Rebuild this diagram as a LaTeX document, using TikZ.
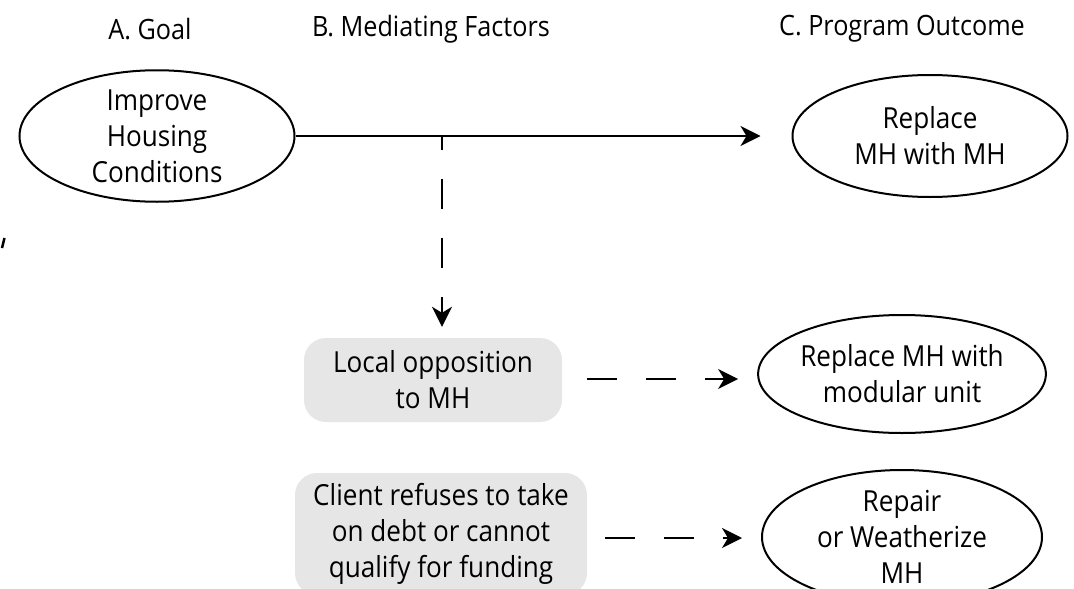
\documentclass[tikz,border=0pt]{standalone}
\usepackage{fontspec}
\setmainfont{Open Sans}[FakeStretch=0.9]
\usetikzlibrary{shapes.geometric,arrows.meta,calc}
\definecolor{boxgray}{HTML}{E6E6E6}
\tikzset{
  txt/.style={font=\fontsize{29}{36}\selectfont, align=center, inner sep=0pt},
  hdr/.style={font=\fontsize{28}{33}\selectfont, inner sep=0pt},
  oval/.style={txt, ellipse, draw, line width=2pt, minimum width=275pt, minimum height=122pt},
  medbox/.style={txt, fill=boxgray, rounded corners=22pt},
  tip/.style={-{Stealth[length=20pt,width=20pt,inset=6pt]}},
  conn/.style={tip, line width=2pt},
  dconn/.style={conn, dash pattern=on 30pt off 29pt}
}
\begin{document}
\begin{tikzpicture}[x=1pt,y=-1pt]
\useasboundingbox (0,0) rectangle (1074,589);
% headers
\node[hdr] (hA) at (150,29) {A. Goal};
\node[hdr] (hB) at (431,29) {B. Mediating Factors};
\node[hdr] (hC) at (902,29) {C. Program Outcome};
% column A
\node[oval] (goal) at (157,136) {Improve\\Housing\\Conditions};
% column C
\node[oval] (out1) at (930,136) {Replace\\MH with MH};
\node[oval, minimum width=280pt, minimum height=118pt] (out2) at (902,374) {Replace MH with\\modular unit};
\node[oval, minimum width=280pt, minimum height=134pt] (out3) at (902,537) {Repair\\or Weatherize\\MH};
% column B
\node[medbox, minimum width=258pt, minimum height=84pt] (med1) at (433,380) {Local opposition\\to MH};
\node[medbox, minimum width=292pt, minimum height=122pt] (med2) at (441,534) {Client refuses to take\\on debt or cannot\\qualify for funding};
% connectors
\coordinate (j) at (442,136);
\draw[conn, shorten >=31pt] (goal.east) -- (out1.west);
\draw[dconn, dash phase=16pt, shorten >=11pt] (j) -- (j |- med1.north);
\draw[dconn, shorten <=25pt, shorten >=19pt] (med1.east |- 0,379) -- (out2.west |- 0,379);
\draw[dconn, shorten <=18pt, shorten >=19pt] (med2.east |- 0,538) -- (out3.west |- 0,538);
% small fragment at left edge
\draw[line width=2.5pt] (4.5,238) -- (2,248);
\end{tikzpicture}
\end{document}
